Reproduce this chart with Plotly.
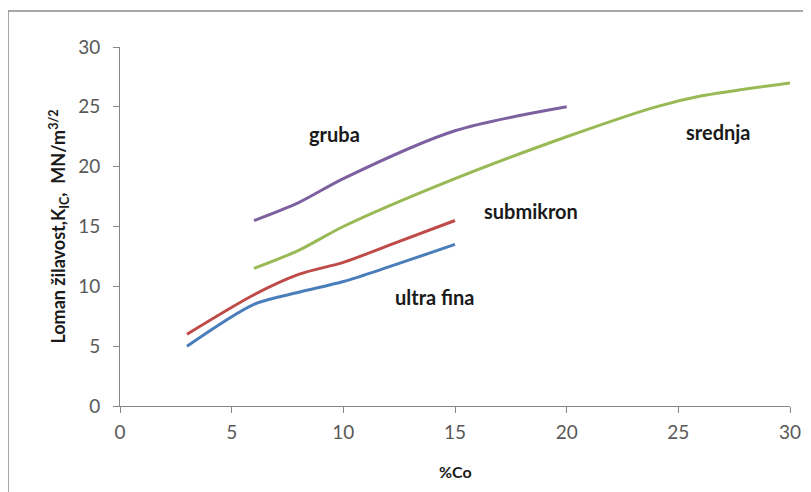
import plotly.graph_objects as go

# Data
x_ultra = [3, 6, 8, 10, 12, 15]
y_ultra = [5.0, 8.5, 9.5, 10.4, 11.6, 13.5]

x_submikron = [3, 6, 8, 10, 12, 15]
y_submikron = [6.0, 9.3, 11.0, 12.0, 13.4, 15.5]

x_srednja = [6, 8, 10, 15, 20, 24, 26, 30]
y_srednja = [11.5, 13.0, 15.0, 19.0, 22.5, 25.0, 25.9, 27.0]

x_gruba = [6, 8, 10, 15, 20]
y_gruba = [15.5, 17.0, 19.0, 23.0, 25.0]

label_texts = ["gruba", "submikron", "ultra fina", "srednja"]
label_x = [9.6, 18.4, 14.1, 26.8]
label_y = [22.7, 16.3, 9.1, 22.9]

x_ticks = [0, 5, 10, 15, 20, 25, 30]
y_ticks = [0, 5, 10, 15, 20, 25, 30]

colors = {"ultra": "#4a7ebb", "submikron": "#be4b48", "srednja": "#98b954", "gruba": "#7d60a0"}

FONT = "Lato, Open Sans, sans-serif"

fig = go.Figure()
for xs, ys, key in [(x_ultra, y_ultra, "ultra"), (x_submikron, y_submikron, "submikron"),
                    (x_srednja, y_srednja, "srednja"), (x_gruba, y_gruba, "gruba")]:
    fig.add_trace(go.Scatter(x=xs, y=ys, mode="lines",
                             line=dict(color=colors[key], width=3, shape="spline", smoothing=0.8),
                             showlegend=False, hoverinfo="skip"))

for t, lx, ly in zip(label_texts, label_x, label_y):
    fig.add_annotation(x=lx, y=ly, text="<b>" + t + "</b>", showarrow=False,
                       font=dict(family=FONT, size=20, color="#1a1a1a"))

# x-axis title placed as an annotation to match the reference position
fig.add_annotation(xref="paper", yref="paper", x=0.5, y=(398 - 463) / 359,
                   text="<b>%Co</b>", showarrow=False, yanchor="middle",
                   font=dict(family=FONT, size=16, color="#1a1a1a"))

axis_font = dict(family=FONT, size=19, color="#595959")

fig.update_xaxes(range=[0, 30], tickvals=x_ticks, showgrid=False, zeroline=False,
                 showline=True, linecolor="#868686", linewidth=1,
                 ticks="outside", ticklen=6, tickcolor="#868686",
                 tickfont=axis_font, ticklabelstandoff=3)
fig.update_yaxes(range=[0, 30], tickvals=y_ticks, showgrid=False, zeroline=False,
                 showline=True, linecolor="#868686", linewidth=1,
                 ticks="outside", ticklen=6, tickcolor="#868686",
                 tickfont=axis_font, ticklabelstandoff=9,
                 title=dict(text="<b>Loman žilavost,K<sub>IC</sub>,  MN/m<sup>3/2</sup></b>",
                            font=dict(family=FONT, size=18, color="#1a1a1a"), standoff=7))

# outer chart border (figure is offset ~8px by the page margin)
fig.add_shape(type="rect", xref="paper", yref="paper",
              x0=(0 - 112) / 670, x1=(830 - 112) / 670,
              y0=(398 - 520) / 359, y1=(398 - 3) / 359,
              line=dict(color="#8c8c8c", width=1.5), layer="below")

fig.update_layout(width=811, height=492,
                  margin=dict(l=112, r=29, t=39, b=94),
                  plot_bgcolor="white", paper_bgcolor="white")

fig.write_html("out.html")
